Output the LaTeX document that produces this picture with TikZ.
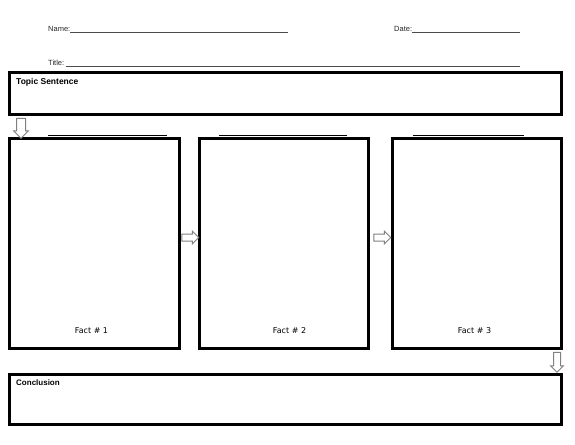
\documentclass[tikz,border=0pt]{standalone}
\usepackage{fontspec}
\setmainfont{Liberation Sans}
\newfontfamily\factfont{DejaVu Sans}
\usetikzlibrary{positioning,shapes.arrows}
\begin{document}
\begin{tikzpicture}[x=1pt,y=-1pt]
		\tikzstyle{every node}+=[inner sep=0pt]
		\tikzstyle{frame}=[draw=black, line width=3pt]
		\tikzstyle{blank}=[draw=black!70, line width=0.7pt]
		\tikzstyle{blockarrow}=[single arrow, draw=black!50, fill=white, line width=1pt, single arrow head extend=3pt]
		\tikzstyle{head}=[font=\fontsize{7.5}{9}\selectfont, text=black!85]
		\tikzstyle{boxlabel}=[font=\bfseries\fontsize{8}{10}\selectfont]
		\tikzstyle{factlabel}=[font=\factfont\fontsize{8}{10}\selectfont]
		\useasboundingbox (0,0) rectangle (575,444);
		\draw (48,32) node [head, anchor=base west] (name) {Name:};
		\draw [blank] (name.base east) -- (288,32);
		\draw (394,32) node [head, anchor=base west] (date) {Date:};
		\draw [blank] (date.base east) -- (520,32);
		\draw (48,66) node [head, anchor=base west] (title) {Title:};
		\draw [blank] ([xshift=2pt]title.base east) -- (520,66);
		\node (topic) [frame, minimum width=552pt, minimum height=42pt] at (285.5,93.5) {};
		\draw (16,84) node [boxlabel, anchor=base west, font=\bfseries\fontsize{8.5}{10}\selectfont] {Topic Sentence};
		\node (fact1) [frame, minimum width=170pt, minimum height=210pt] at (94.5,243.5) {};
		\node (fact2) [frame, minimum width=169pt, minimum height=210pt] at (284,243.5) {};
		\node (fact3) [frame, minimum width=169pt, minimum height=210pt] at (477,243.5) {};
		\draw (91.5,333) node [factlabel, anchor=base] {Fact \# 1};
		\draw (289.5,333) node [factlabel, anchor=base] {Fact \# 2};
		\draw (474.5,333) node [factlabel, anchor=base] {Fact \# 3};
		\draw [black, line width=0.8pt] (48,135) -- (167,135);
		\draw [black, line width=0.8pt] (219,135) -- (347,135);
		\draw [black, line width=0.8pt] (413,135) -- (524,135);
		\node (concl) [frame, minimum width=552pt, minimum height=50pt] at (285.5,399.5) {};
		\draw (16,385) node [boxlabel, anchor=base west] {Conclusion};
		\node (down1) [blockarrow, shape border rotate=270, minimum height=20pt, inner sep=4pt] at (21,126) {};
		\node (right1) [blockarrow, minimum height=17pt, inner sep=3pt] at (188.5,237.5) {};
		\node (right2) [blockarrow, minimum height=17pt, inner sep=3pt] at (380.5,237.5) {};
		\node (down2) [blockarrow, shape border rotate=270, minimum height=20pt, inner sep=3pt] at (557,360.5) {};
\end{tikzpicture}
\end{document}
